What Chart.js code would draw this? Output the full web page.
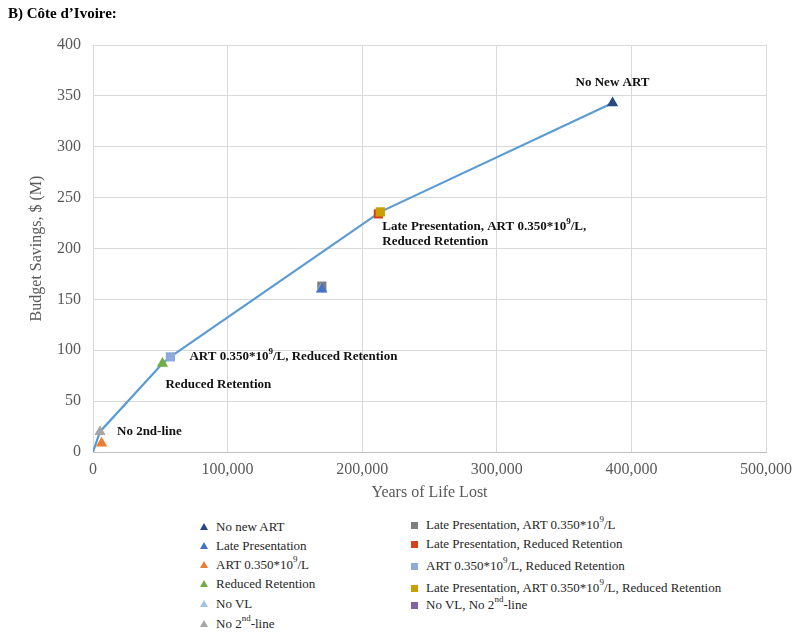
<!DOCTYPE html>
<html>
<head>
<meta charset="utf-8">
<script src="https://cdn.jsdelivr.net/npm/chart.js@4/dist/chart.umd.min.js"></script>
<style>
  html,body{margin:0;padding:0;background:#fff;}
  #wrap{position:relative;width:800px;height:637px;background:#fff;overflow:hidden;font-family:'Liberation Serif','Times New Roman',serif;}
  #title{position:absolute;left:8px;top:5px;font-weight:bold;font-size:15px;color:#000;}
  #c{position:absolute;left:0;top:0;}
  .lg{position:absolute;font-size:13px;color:#262626;white-space:nowrap;line-height:16px;}
  .lg sup{font-size:9px;vertical-align:7px;line-height:0;}
  .tri{position:absolute;width:0;height:0;border-left:4px solid transparent;border-right:4px solid transparent;border-bottom-width:7px;border-bottom-style:solid;}
  .sq{position:absolute;width:7px;height:7px;}
</style>
</head>
<body>
<div id="wrap">
  <canvas id="c" width="800" height="505"></canvas>
  <div id="title">B) Côte d’Ivoire:</div>
  <div id="legend"></div>
</div>
<script>
// ---- data ----
const seriesNames = [
  'No new ART',
  'Late Presentation',
  'ART 0.350*10^9/L',
  'Reduced Retention',
  'No VL',
  'No 2^nd-line',
  'Late Presentation, ART 0.350*10^9/L',
  'Late Presentation, Reduced Retention',
  'ART 0.350*10^9/L, Reduced Retention',
  'Late Presentation, ART 0.350*10^9/L, Reduced Retention',
  'No VL, No 2^nd-line'
];
const yearsOfLifeLost = [386000, 170000, 6400, 51600, 169500, 5200, 170000, 212000, 57500, 213500, 5200];
const budgetSavings   = [343,    160,    8.5,  87,    160,    20,   163,    234,    93.5,  236,    19];
const frontierYll     = [0, 5200, 51600, 57500, 213500, 386000];
const frontierSavings = [0, 20,   87,    93.5,  236,    343];
const xTickValues = [0, 100000, 200000, 300000, 400000, 500000];
const yTickValues = [0, 50, 100, 150, 200, 250, 300, 350, 400];

// ---- styles ----
const seriesColors = ['#264a80','#4472c4','#ed7d31','#70ad47','#9dc3e6','#a5a5a5','#7f7f7f','#d9401c','#8eaadb','#c9a000','#8064a2'];
const seriesShapes = ['triangle','triangle','triangle','triangle','triangle','triangle','rect','rect','rect','rect','rect'];
const seriesRadius = [6.5,6.5,6.5,6.5,6.5,6.5,6.5,6.5,6.5,6.5,2.5];
const legendCols = [0,0,0,0,0,0,1,1,1,1,1];
const legendTops = [526.5,546,564.5,584,604,624, 525,544,566,588,605];
const FONT = "'Liberation Serif','Times New Roman',serif";

const annotations = [
  {series:0, dx:0,  dy:-20, align:'center', lines:['No New ART']},
  {series:9, dx:2,  dy:15,  align:'left',   lines:['Late Presentation, ART 0.350*10^9/L,','Reduced Retention']},
  {series:8, dx:19, dy:0,   align:'left',   lines:['ART 0.350*10^9/L, Reduced Retention']},
  {series:3, dx:3,  dy:21,  align:'left',   lines:['Reduced Retention']},
  {series:5, dx:17, dy:0,   align:'left',   lines:['No 2nd-line']}
];

function richSegments(t){
  const out=[]; const re=/\^(\w+)/g; let last=0,m;
  while((m=re.exec(t))){ if(m.index>last) out.push({t:t.slice(last,m.index),sup:false}); out.push({t:m[1],sup:true}); last=re.lastIndex; }
  if(last<t.length) out.push({t:t.slice(last),sup:false});
  return out;
}
function drawRich(ctx,text,x,y,align){
  const segs=richSegments(text);
  const mainF='bold 13px '+FONT, supF='bold 9px '+FONT;
  let w=0; segs.forEach(s=>{ctx.font=s.sup?supF:mainF; s.w=ctx.measureText(s.t).width; w+=s.w;});
  let cx = align==='center'? x-w/2 : x;
  ctx.textBaseline='middle'; ctx.textAlign='left'; ctx.fillStyle='#111';
  segs.forEach(s=>{ctx.font=s.sup?supF:mainF; ctx.fillText(s.t,cx,s.sup?y-5:y); cx+=s.w;});
}

const annotationPlugin = {
  id:'annots',
  afterDatasetsDraw(chart){
    const ctx=chart.ctx, xs=chart.scales.x, ys=chart.scales.y;
    ctx.save();
    annotations.forEach(a=>{
      const px=xs.getPixelForValue(yearsOfLifeLost[a.series]);
      const py=ys.getPixelForValue(budgetSavings[a.series]);
      a.lines.forEach((ln,i)=>drawRich(ctx,ln,px+a.dx,py+a.dy+i*15,a.align));
    });
    ctx.restore();
  }
};

const datasets = seriesNames.map((n,i)=>({
  label:n.replace(/\^/g,''),
  data:[{x:yearsOfLifeLost[i], y:budgetSavings[i]}],
  pointStyle:seriesShapes[i],
  pointRadius:seriesRadius[i],
  backgroundColor:seriesColors[i],
  borderColor:seriesColors[i],
  borderWidth:0,
  showLine:false,
  order: i===9 ? -1 : (i===10 ? 50 : i)
}));
datasets.push({
  label:'frontier',
  data:frontierYll.map((x,i)=>({x:x,y:frontierSavings[i]})),
  showLine:true, borderColor:'#5b9bd5', borderWidth:2.2, pointRadius:0, fill:false, tension:0, order:100
});

Chart.defaults.font.family = FONT;
new Chart(document.getElementById('c'), {
  type:'scatter',
  data:{datasets},
  plugins:[annotationPlugin],
  options:{
    responsive:false, animation:false,
    layout:{padding:{left:0,top:45,right:32,bottom:0}},
    plugins:{legend:{display:false},tooltip:{enabled:false}},
    scales:{
      x:{
        type:'linear', min:0, max:500000,
        afterBuildTicks:s=>{s.ticks=xTickValues.map(v=>({value:v}));},
        grid:{color:'#d9d9d9',drawTicks:false},
        border:{color:'#bfbfbf'},
        ticks:{padding:8,color:'#595959',font:{size:16},maxRotation:0,callback:v=>Number(v).toLocaleString('en-US')},
        title:{display:true,text:'Years of Life Lost',color:'#595959',font:{size:16},padding:{top:0,bottom:3}},
        afterFit:s=>{s.height=505-452;}
      },
      y:{
        type:'linear', min:0, max:400,
        afterBuildTicks:s=>{s.ticks=yTickValues.map(v=>({value:v}));},
        grid:{color:'#d9d9d9',drawTicks:false},
        border:{color:'#d9d9d9'},
        ticks:{padding:12,color:'#595959',font:{size:16}},
        title:{display:true,text:'Budget Savings, $ (M)',color:'#595959',font:{size:16},padding:{top:27,bottom:0}},
        afterFit:s=>{s.width=93;}
      }
    }
  }
});

// ---- legend (HTML, built from the series arrays) ----
const lg=document.getElementById('legend');
seriesNames.forEach((n,i)=>{
  const col=legendCols[i], top=legendTops[i];
  const mx = col===0?204:414, tx = col===0?216:426;
  const m=document.createElement('div');
  if(seriesShapes[i]==='triangle'){ m.className='tri'; m.style.borderBottomColor=seriesColors[i]; m.style.left=(mx-4)+'px'; m.style.top=(top-4)+'px'; }
  else { m.className='sq'; m.style.background=seriesColors[i]; m.style.left=(mx-3.5)+'px'; m.style.top=(top-3.5)+'px'; }
  lg.appendChild(m);
  const t=document.createElement('div');
  t.className='lg'; t.style.left=tx+'px'; t.style.top=(top-8)+'px';
  t.innerHTML=n.replace(/\^(\w+)/g,'<sup>$1</sup>');
  lg.appendChild(t);
});
</script>
</body>
</html>
